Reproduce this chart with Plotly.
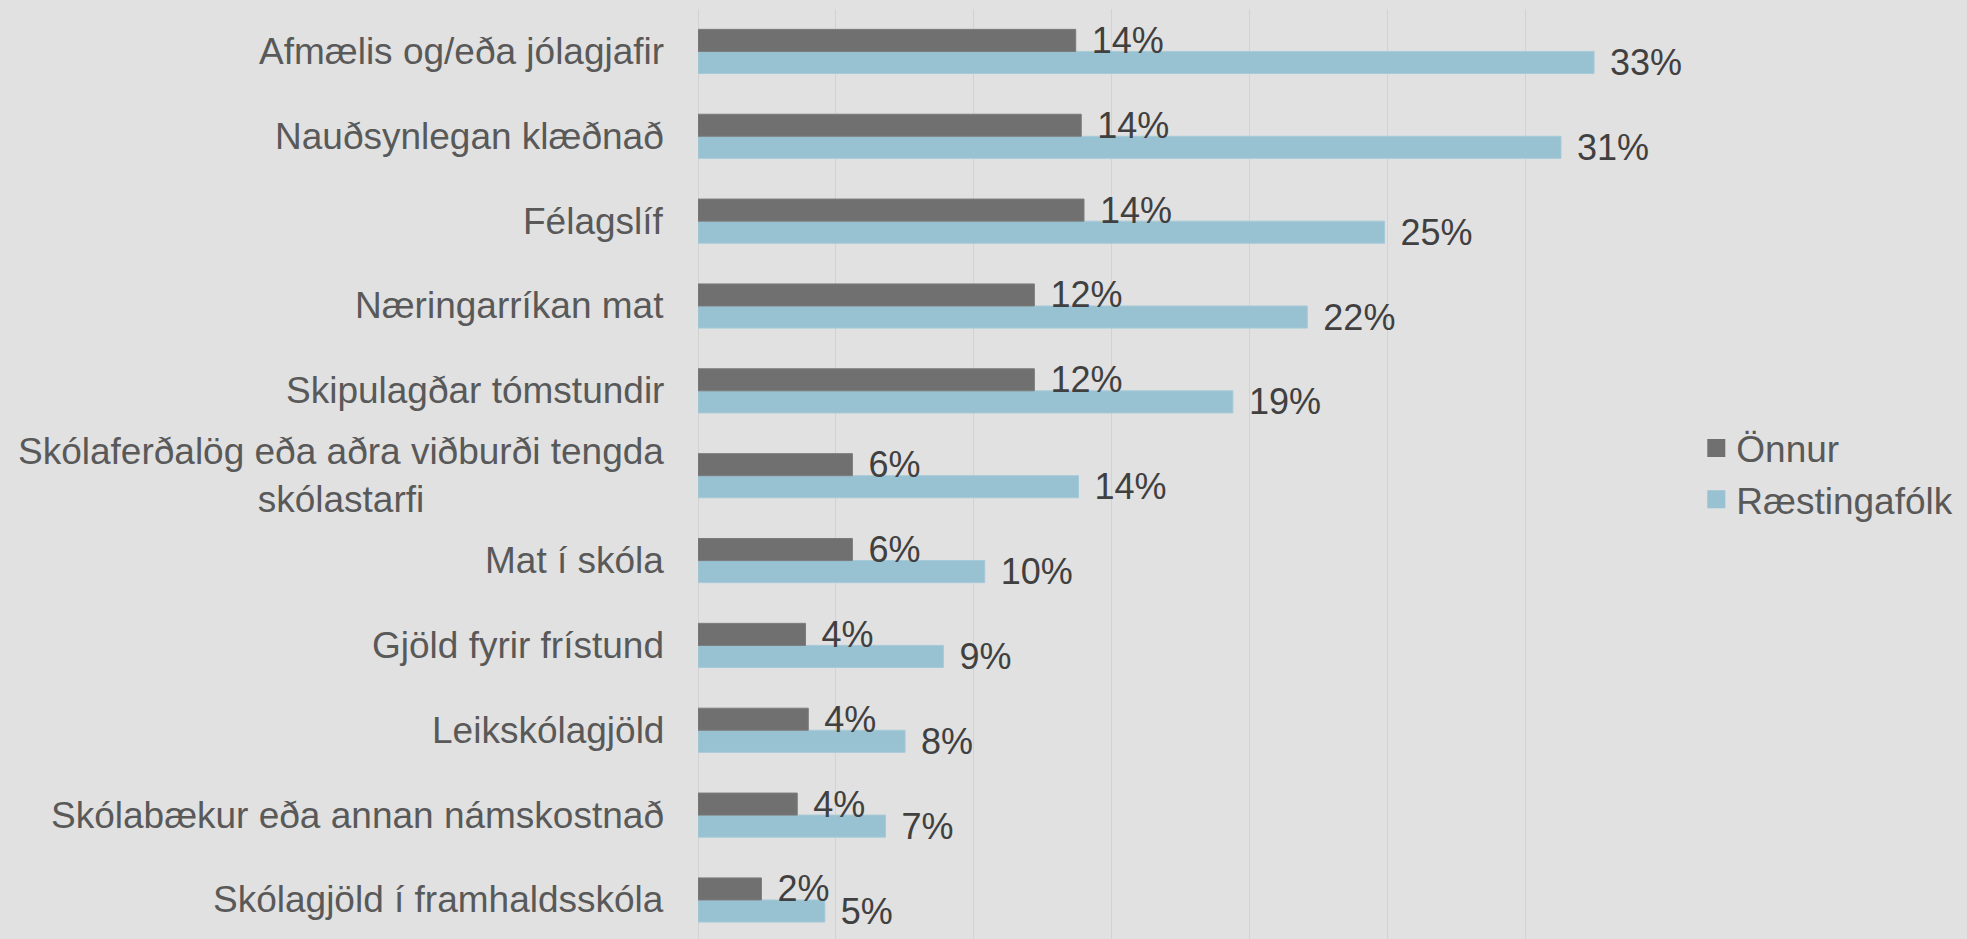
import plotly.graph_objects as go

categories = [
    "Afmælis og/eða jólagjafir",
    "Nauðsynlegan klæðnað",
    "Félagslíf",
    "Næringarríkan mat",
    "Skipulagðar tómstundir",
    "Skólaferðalög eða aðra viðburði tengda<br>skólastarfi",
    "Mat í skóla",
    "Gjöld fyrir frístund",
    "Leikskólagjöld",
    "Skólabækur eða annan námskostnað",
    "Skólagjöld í framhaldsskóla",
]
onnur = [0.137, 0.139, 0.140, 0.122, 0.122, 0.056, 0.056, 0.039, 0.040, 0.036, 0.023]
raestingafolk = [0.325, 0.313, 0.249, 0.221, 0.194, 0.138, 0.104, 0.089, 0.0751, 0.068, 0.046]
series_names = ["Önnur", "Ræstingafólk"]
series_colors = ["#707070", "#98C1D1"]
series_edges = ["#7C7C7C", "#A6CAD8"]

FONT = "Liberation Sans, Arial, sans-serif"
BG = "#E1E1E1"
GRID = "#D2D2D2"

fig = go.Figure()
series = list(zip(series_names, [onnur, raestingafolk], series_colors, series_edges))
# draw Ræstingafólk first (lower within group), Önnur last so its labels sit on top
for name, vals, col, edge in reversed(series):
    fig.add_trace(go.Bar(
        y=categories, x=vals, orientation="h", name=name,
        marker=dict(color=col, line=dict(width=1, color=edge)),
        texttemplate="\u00a0\u200a%{x:.0%}", textposition="outside",
        textfont=dict(family=FONT, size=36, color="#404040"),
        constraintext="none", cliponaxis=False, showlegend=False,
    ))
for name, vals, col, edge in series:
    fig.add_trace(go.Scatter(
        x=[None], y=[None], mode="markers", name=name, legendgroup=name,
        marker=dict(symbol="square", size=16, color=col, line=dict(width=2, color=col)),
        showlegend=True,
    ))

for cat in categories:
    fig.add_annotation(
        xref="paper", x=0, yref="y", y=cat, text=cat, showarrow=False,
        xanchor="right", yanchor="middle", align="center", xshift=-32,
        font=dict(family=FONT, size=37, color="#595959"),
    )

fig.update_layout(
    width=1967, height=939,
    margin=dict(l=698, r=304, t=9, b=0),
    paper_bgcolor=BG, plot_bgcolor=BG,
    barmode="group", bargap=0.48, bargroupgap=0,
    font=dict(family=FONT, size=36, color="#595959"),
    legend=dict(
        x=1.0345, xanchor="left", y=0.5, yanchor="middle",
        font=dict(family=FONT, size=37, color="#595959"),
        bgcolor="rgba(0,0,0,0)", tracegroupgap=14, traceorder="normal",
    ),
    xaxis=dict(
        range=[0, 0.35], dtick=0.05, showticklabels=False, showgrid=True,
        gridcolor=GRID, gridwidth=1, zeroline=True, zerolinecolor=GRID,
        zerolinewidth=1, showline=False, ticks="",
    ),
    yaxis=dict(
        categoryorder="array", categoryarray=categories[::-1],
        range=[-0.46, 10.5], showticklabels=False, showgrid=False,
        zeroline=False, showline=False, ticks="",
    ),
)

fig.write_html(
    "out.html",
    config={"displayModeBar": False},
    post_script="document.body.style.margin='0';document.body.style.background='#E1E1E1';",
)
